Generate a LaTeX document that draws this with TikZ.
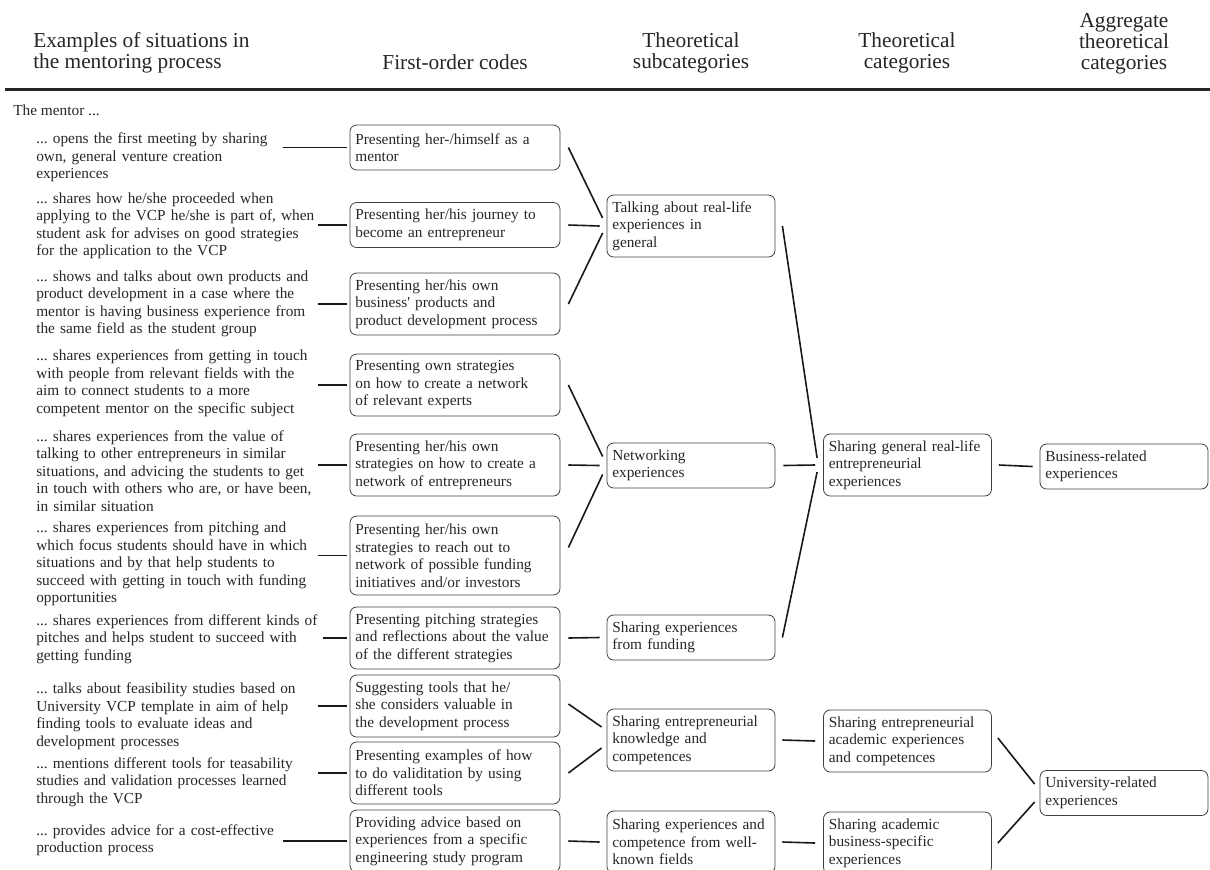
\documentclass[tikz,border=0pt]{standalone}
\usepackage{fontspec}
\setmainfont{Liberation Serif}
\usepackage{tikz}
\usetikzlibrary{
	positioning
}
\frenchspacing
\tikzset{
	body text/.style={
		font=\fontsize{11.5pt}{13.125pt}\selectfont
		,text=black!85
	}
	,head text/.style={
		font=\fontsize{16pt}{15.75pt}\selectfont
		,text=black!85
		,align=center
		,inner sep=0pt
	}
	,situation/.style={
		body text
		,anchor=west
		,align=left
		,inner sep=0pt
		,text width=#1
	}
	,situation/.default=210pt
	,code/.style={
		body text
		,draw=black!75
		,line width=0.6pt
		,rounded corners=5pt
		,align=left
		,inner xsep=4pt
		,inner ysep=0pt
		,text width=#1
	}
	,first order/.style={code=149.5pt}
	,category/.style={code=118pt}
	,two lines/.style={minimum height=33.75pt}
	,three lines/.style={minimum height=46.5pt}
	,four lines/.style={minimum height=59.25pt}
	,link/.style={
		draw=black!90
		,line width=1.2pt
	}
	,lead/.style={
		link
		,shorten <=1pt
		,shorten >=2.25pt
	}
}

\begin{document}
\begin{tikzpicture}[x=0.75pt, y=-0.75pt]
\useasboundingbox (0,0) rectangle (1210,869);
\node[head text, anchor=west, align=left] (hsit) at (33,52.5) {Examples of situations in\\the mentoring process};
\node[head text] (hfirst) at (455,62) {First-order codes};
\node[head text] (hsub) at (691,52.5) {Theoretical\\subcategories};
\node[head text] (hcat) at (907,52.5) {Theoretical\\categories};
\node[head text] (hagg) at (1124,44) {Aggregate\\theoretical\\categories};
\draw[line width=1.9pt, black!85] (5,89.5) -- (1210,89.5);
\node[body text, anchor=west, inner sep=0pt] (mentor) at (13,110) {The mentor ...};

\node[situation=184pt] (sit1) at (36,157.5) {... opens the first meeting by sharing\\own, general venture creation\\experiences};
\node[situation] (sit2) at (36,226) {... shares how he/she proceeded when\\applying to the VCP he/she is part of, when\\student ask for advises on good strategies\\for the application to the VCP};
\node[situation] (sit3) at (36,304) {... shows and talks about own products and\\product development in a case where the\\mentor is having business experience from\\the same field as the student group};
\node[situation] (sit4) at (36,383) {... shares experiences from getting in touch\\with people from relevant fields with the\\aim to connect students to a more\\competent mentor on the specific subject};
\node[situation] (sit5) at (36,471) {... shares experiences from the value of\\talking to other entrepreneurs in similar\\situations, and advicing the students to get\\in touch with others who are, or have been,\\in similar situation};
\node[situation] (sit6) at (36,564) {... shares experiences from pitching and\\which focus students should have in which\\situations and by that help students to\\succeed with getting in touch with funding\\opportunities};
\node[situation=214pt] (sit7) at (36,639) {... shares experiences from different kinds of\\pitches and helps student to succeed with\\getting funding};
\node[situation] (sit8) at (36,716) {... talks about feasibility studies based on\\University VCP template in aim of help\\finding tools to evaluate ideas and\\development processes};
\node[situation] (sit9) at (36,782) {... mentions different tools for teasability\\studies and validation processes learned\\through the VCP};
\node[situation=184pt] (sit10) at (36,840) {... provides advice for a cost-effective\\production process};

\node[first order, two lines] (fo1) at (455,147.5) {Presenting her-/himself as a\\mentor};
\node[first order, two lines] (fo2) at (455,225) {Presenting her/his journey to\\become an entrepreneur};
\node[first order, three lines] (fo3) at (455,304) {Presenting her/his own\\business\textquotesingle{} products and\\product development process};
\node[first order, three lines] (fo4) at (455,385) {Presenting own strategies\\on how to create a network\\of relevant experts};
\node[first order, three lines] (fo5) at (455,465) {Presenting her/his own\\strategies on how to create a\\network of entrepreneurs};
\node[first order, four lines] (fo6) at (455,555.5) {Presenting her/his own\\strategies to reach out to\\network of possible funding\\initiatives and/or investors};
\node[first order, three lines] (fo7) at (455,638) {Presenting pitching strategies\\and reflections about the value\\of the different strategies};
\node[first order, three lines] (fo8) at (455,706) {Suggesting tools that he/\\she considers valuable in\\the development process};
\node[first order, three lines] (fo9) at (455,773) {Presenting examples of how\\to do validitation by using\\different tools};
\node[first order, three lines] (fo10) at (455,841) {Providing advice based on\\experiences from a specific\\engineering study program};

\node[category, three lines] (sa) at (691,226) {Talking about real-life\\experiences in\\general};
\node[category, two lines] (sb) at (691,465.5) {Networking\\experiences};
\node[category, two lines] (sc) at (691,637.5) {Sharing experiences\\from funding};
\node[category, three lines] (sd) at (691,740) {Sharing entrepreneurial\\knowledge and\\competences};
\node[category, three lines] (se) at (691,842) {Sharing experiences and\\competence from well-\\known fields};

\node[category, three lines] (cf) at (907.5,465) {Sharing general real-life\\entrepreneurial\\experiences};
\node[category, three lines] (cg) at (907.5,741) {Sharing entrepreneurial\\academic experiences\\and competences};
\node[category, three lines] (ch) at (907.5,843) {Sharing academic\\business-specific\\experiences};

\node[category, two lines] (ai) at (1124,466.5) {Business-related\\experiences};
\node[category, two lines] (aj) at (1124,793) {University-related\\experiences};

\foreach \i in {1,...,10}
	\draw[lead] (sit\i.east |- fo\i.west) -- (fo\i.west);

\draw[link] ([xshift=6pt]fo1.east) -- ([xshift=-3pt,yshift=6pt]sa.west);
\draw[link] ([xshift=6pt]fo2.east) -- ([xshift=-5.25pt]sa.west);
\draw[link] ([xshift=6pt]fo3.east) -- ([xshift=-3pt,yshift=-5.25pt]sa.west);
\draw[link] ([xshift=6pt]fo4.east) -- ([xshift=-3pt,yshift=6.75pt]sb.west);
\draw[link] ([xshift=6pt]fo5.east) -- ([xshift=-5.25pt]sb.west);
\draw[link] ([xshift=6pt,yshift=6pt]fo6.east) -- ([xshift=-3pt,yshift=-6.75pt]sb.west);
\draw[link] ([xshift=6pt]fo7.east) -- ([xshift=-5.25pt]sc.west);
\draw[link] ([xshift=6pt,yshift=1.5pt]fo8.east) -- ([xshift=-3.75pt,yshift=9.75pt]sd.west);
\draw[link] ([xshift=6pt]fo9.east) -- ([xshift=-3.75pt,yshift=-6pt]sd.west);
\draw[link] ([xshift=6pt]fo10.east) -- ([xshift=-5.25pt]se.west);

\draw[link] ([xshift=5.25pt]sa.east) -- ([xshift=-4.5pt,yshift=5.25pt]cf.west);
\draw[link] ([xshift=6pt]sb.east) -- ([xshift=-6pt]cf.west);
\draw[link] ([xshift=5.25pt]sc.east) -- ([xshift=-4.5pt,yshift=-5.25pt]cf.west);
\draw[link] ([xshift=5.25pt]sd.east) -- ([xshift=-6pt]cg.west);
\draw[link] ([xshift=5.25pt]se.east) -- ([xshift=-6pt]ch.west);

\draw[link] ([xshift=5.25pt]cf.east) -- ([xshift=-5.25pt]ai.west);
\draw[link] ([xshift=4.5pt,yshift=2.25pt]cg.east) -- ([xshift=-3.75pt,yshift=6.75pt]aj.west);
\draw[link] ([xshift=4.5pt]ch.east) -- ([xshift=-3.75pt,yshift=-6.75pt]aj.west);
\end{tikzpicture}
\end{document}
